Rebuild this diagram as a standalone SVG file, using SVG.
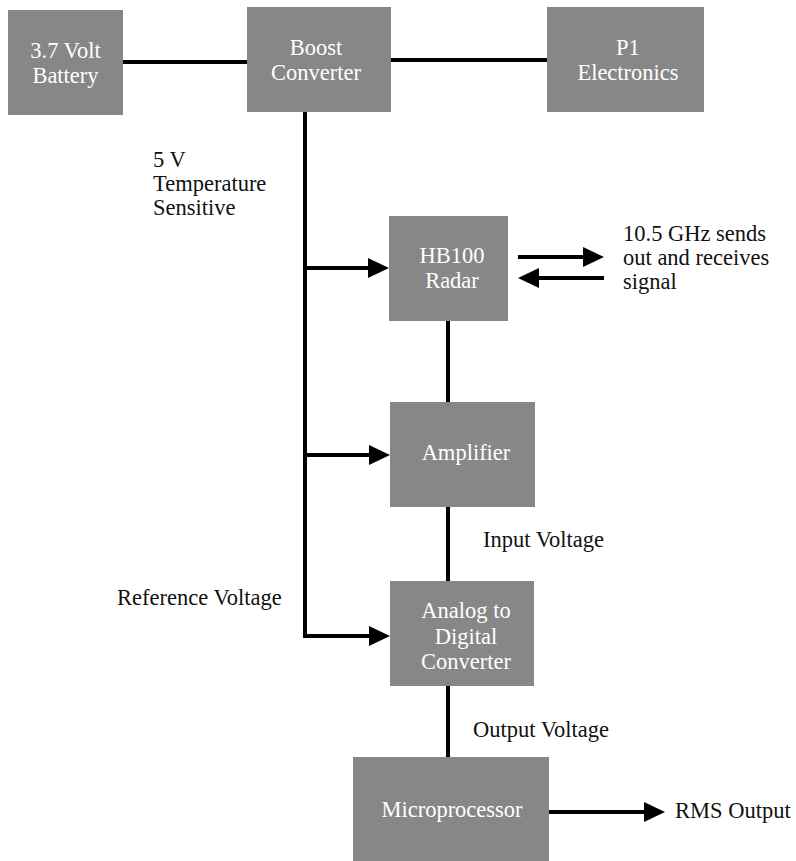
<svg xmlns="http://www.w3.org/2000/svg" width="796" height="861" viewBox="0 0 796 861">
<style>
.box{fill:#878787;stroke:none}
text{font-family:'Liberation Serif','Times New Roman','DejaVu Serif',serif;font-size:22.5px}
.bt{fill:#ffffff;text-anchor:middle}
.lb{fill:#111111}
.ln{stroke:#000;stroke-width:4;fill:none}
</style>
<defs>
<marker id="ah" markerUnits="userSpaceOnUse" markerWidth="22" markerHeight="22" refX="3" refY="10" orient="auto">
<path d="M0,0 L21,10 L0,20 z" fill="#000"/>
</marker>
</defs>
<rect width="796" height="861" fill="#ffffff"/>
<g id="connectors">
<line class="ln" x1="123" y1="62" x2="247" y2="62"/>
<line class="ln" x1="391" y1="60" x2="547" y2="60"/>
<path class="ln" d="M305,112 V636 H372" marker-end="url(#ah)"/>
<line class="ln" x1="305" y1="268" x2="371" y2="268" marker-end="url(#ah)"/>
<line class="ln" x1="305" y1="455" x2="372" y2="455" marker-end="url(#ah)"/>
<line class="ln" x1="448" y1="321" x2="448" y2="402"/>
<line class="ln" x1="448" y1="507" x2="448" y2="581"/>
<line class="ln" x1="448" y1="686" x2="448" y2="757"/>
<line class="ln" x1="549" y1="812" x2="647" y2="812" marker-end="url(#ah)"/>
<line class="ln" x1="518" y1="257" x2="586" y2="257" marker-end="url(#ah)"/>
<line class="ln" x1="604" y1="278" x2="536" y2="278" marker-end="url(#ah)"/>
</g>
<g id="battery">
<rect class="box" x="8" y="10" width="115" height="105"/>
<text class="bt" x="65.5" y="58">3.7 Volt</text>
<text class="bt" x="65.5" y="83">Battery</text>
</g>
<g id="boost">
<rect class="box" x="247" y="7" width="144" height="105"/>
<text class="bt" x="316" y="55">Boost</text>
<text class="bt" x="316" y="80">Converter</text>
</g>
<g id="p1">
<rect class="box" x="547" y="7" width="157" height="105"/>
<text class="bt" x="628" y="55">P1</text>
<text class="bt" x="628" y="80">Electronics</text>
</g>
<g id="hb100">
<rect class="box" x="389" y="216" width="119" height="105"/>
<text class="bt" x="452" y="263">HB100</text>
<text class="bt" x="452" y="288">Radar</text>
</g>
<g id="amplifier">
<rect class="box" x="390" y="402" width="145" height="105"/>
<text class="bt" x="466" y="460">Amplifier</text>
</g>
<g id="adc">
<rect class="box" x="390" y="581" width="144" height="105"/>
<text class="bt" x="466" y="618">Analog to</text>
<text class="bt" x="466" y="644">Digital</text>
<text class="bt" x="466" y="669">Converter</text>
</g>
<g id="microprocessor">
<rect class="box" x="353" y="757" width="196" height="104"/>
<text class="bt" x="452" y="817">Microprocessor</text>
</g>
<g id="labels">
<text class="lb" x="153" y="167">5 V</text>
<text class="lb" x="153" y="191">Temperature</text>
<text class="lb" x="153" y="215">Sensitive</text>
<text class="lb" x="623" y="241">10.5 GHz sends</text>
<text class="lb" x="623" y="265">out and receives</text>
<text class="lb" x="623" y="289">signal</text>
<text class="lb" x="483" y="547">Input Voltage</text>
<text class="lb" x="117" y="605">Reference Voltage</text>
<text class="lb" x="473" y="737">Output Voltage</text>
<text class="lb" x="675" y="818">RMS Output</text>
</g>
</svg>
